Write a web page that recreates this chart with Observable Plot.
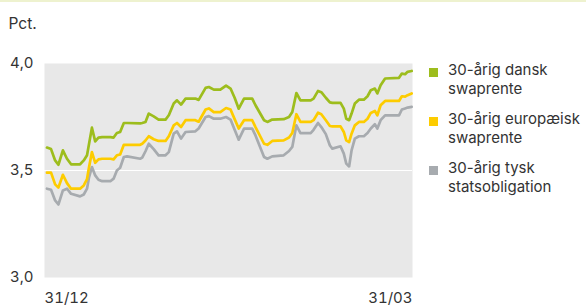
<!DOCTYPE html>
<html>
<head>
<meta charset="utf-8">
<script src="https://cdn.jsdelivr.net/npm/d3@7"></script>
<script src="https://cdn.jsdelivr.net/npm/@observablehq/plot@0.6"></script>
<style>
  html, body { margin: 0; padding: 0; background: #fff; }
  #wrap { position: relative; width: 586px; height: 306px; overflow: hidden; font-family: Inter, "Noto Sans", sans-serif; color: #333; }
  #topline { position: absolute; left: 0; top: 0; width: 586px; height: 2px; background: #eef2cf; }
  #legend { position: absolute; left: 0; top: 0; }
  .item { position: absolute; left: 429px; }
  .sw { position: absolute; left: 0; width: 9px; height: 9px; }
  .lbl { position: absolute; left: 19px; font-size: 15px; line-height: 18.5px; white-space: nowrap; color: #333; }
</style>
</head>
<body>
<div id="wrap">
  <div id="chart"></div>
  <div id="topline"></div>
  <div id="legend"></div>
</div>
<script>
// Day offsets from 31/12 (fractional positions)
const days = [0.6,1.6,2.6,3.4,4.5,5.5,6.5,8.7,9.6,10.4,10.9,11.6,12.4,13.2,14.1,16.1,16.9,17.7,18.5,19.4,20.2,23.4,
  23.9,24.7,25.5,26.7,27.9,29.6,30.4,31.6,32.4,33.4,34.5,36.9,37.7,39.4,40.2,41.4,43.0,44.4,45.5,46.5,
  47.5,48.8,50.8,51.6,53.7,54.5,55.7,58.5,59.8,60.6,61.6,62.6,65.1,65.8,66.9,67.7,68.8,69.8,
  70.4,72.4,73.2,73.8,74.5,75.1,75.9,76.9,78.1,79.0,79.8,80.8,81.4,82.2,83.3,86.7,87.4,88.2,88.8,89.8];

const dansk = [3.607,3.600,3.547,3.527,3.594,3.555,3.529,3.529,3.547,3.571,3.625,3.700,3.636,3.654,3.656,3.656,3.654,3.675,3.680,3.722,3.722,3.720,
  3.722,3.727,3.766,3.753,3.738,3.738,3.758,3.813,3.828,3.808,3.836,3.836,3.830,3.886,3.890,3.878,3.878,3.897,3.883,3.840,
  3.789,3.836,3.836,3.805,3.735,3.727,3.738,3.740,3.750,3.773,3.862,3.828,3.828,3.836,3.872,3.866,3.840,3.818,
  3.816,3.816,3.789,3.742,3.735,3.766,3.813,3.831,3.831,3.847,3.875,3.883,3.860,3.898,3.930,3.933,3.953,3.950,3.961,3.965];

const europaeisk = [3.490,3.490,3.435,3.420,3.480,3.441,3.415,3.415,3.430,3.460,3.516,3.586,3.536,3.552,3.555,3.555,3.552,3.571,3.575,3.620,3.620,3.620,
  3.625,3.640,3.660,3.646,3.638,3.638,3.660,3.711,3.722,3.703,3.735,3.735,3.728,3.785,3.790,3.773,3.773,3.792,3.785,3.740,
  3.696,3.735,3.735,3.703,3.625,3.620,3.638,3.641,3.654,3.675,3.763,3.727,3.727,3.735,3.770,3.763,3.735,3.708,
  3.706,3.706,3.680,3.641,3.633,3.672,3.711,3.727,3.727,3.742,3.769,3.778,3.758,3.805,3.825,3.825,3.847,3.845,3.852,3.860];

const tysk = [3.415,3.410,3.360,3.341,3.407,3.415,3.391,3.379,3.388,3.415,3.469,3.516,3.477,3.457,3.450,3.450,3.462,3.500,3.513,3.563,3.566,3.555,
  3.560,3.590,3.625,3.600,3.571,3.571,3.586,3.672,3.683,3.649,3.680,3.683,3.696,3.750,3.754,3.742,3.742,3.750,3.738,3.690,
  3.644,3.696,3.696,3.664,3.563,3.555,3.566,3.571,3.591,3.610,3.711,3.675,3.675,3.690,3.722,3.703,3.670,3.617,
  3.602,3.613,3.579,3.532,3.519,3.594,3.649,3.660,3.660,3.675,3.696,3.716,3.696,3.735,3.758,3.758,3.785,3.790,3.794,3.797];

const seriesNames = ["30-årig dansk\nswaprente", "30-årig europæisk\nswaprente", "30-årig tysk\nstatsobligation"];
const seriesColors = ["#9dbd1d", "#fdcc00", "#a7abaf"];
const yTicks = [3.0, 3.5, 4.0];
const xTickDays = [0, 90];
const xTickLabels = ["31/12", "31/03"];

const base = Date.UTC(2024, 11, 31);
const toDate = d => new Date(base + d * 86400000);

const seriesValues = [dansk, europaeisk, tysk];
const rows = [];
seriesValues.forEach((vals, s) => {
  vals.forEach((v, i) => rows.push({date: toDate(days[i]), value: v, series: s}));
});

const fmtY = v => v.toFixed(1).replace(".", ",");
const fmtX = d => xTickLabels[xTickDays.findIndex(t => +toDate(t) === +d)];

const chart = Plot.plot({
  width: 586,
  height: 306,
  marginLeft: 44,
  marginRight: 174,
  marginTop: 63,
  marginBottom: 29,
  style: {fontFamily: "Inter, 'Noto Sans', sans-serif", fontSize: "15px", color: "#333", background: "transparent"},
  x: {type: "utc", domain: [toDate(0), toDate(90)]},
  y: {domain: [3, 4]},
  marks: [
    Plot.frame({fill: "#e8e8e8", stroke: null}),
    Plot.ruleY([3.5], {stroke: "#fff", strokeWidth: 1.2}),
    Plot.axisY({ticks: yTicks, tickSize: 0, tickPadding: 11, tickFormat: fmtY, label: null, fontSize: 15, fill: "#333"}),
    Plot.axisX({ticks: [toDate(xTickDays[0])], tickSize: 0, tickPadding: 15, textAnchor: "start", tickFormat: fmtX, label: null, fontSize: 15, fill: "#333"}),
    Plot.axisX({ticks: [toDate(xTickDays[1])], tickSize: 0, tickPadding: 15, textAnchor: "end", tickFormat: fmtX, label: null, fontSize: 15, fill: "#333"}),
    ...[2, 1, 0].map(s => Plot.line(rows.filter(r => r.series === s), {
      x: "date", y: "value", stroke: seriesColors[s], strokeWidth: 2.7, curve: "linear", strokeLinejoin: "round"
    })),
    Plot.text(["Pct."], {frameAnchor: "top-left", textAnchor: "start", lineAnchor: "top", dx: -36, dy: -46, fontSize: 15.5, fill: "#333"})
  ]
});
document.getElementById("chart").appendChild(chart);

// Legend
const legend = document.getElementById("legend");
const tops = [65, 114, 163];
seriesNames.forEach((name, i) => {
  const item = document.createElement("div");
  item.className = "item";
  item.style.top = (tops[i] - 4) + "px";
  const sw = document.createElement("div");
  sw.className = "sw";
  sw.style.background = seriesColors[i];
  sw.style.top = "7px";
  const lbl = document.createElement("div");
  lbl.className = "lbl";
  lbl.innerHTML = name.split("\n").join("<br>");
  item.appendChild(sw);
  item.appendChild(lbl);
  legend.appendChild(item);
});
</script>
</body>
</html>
